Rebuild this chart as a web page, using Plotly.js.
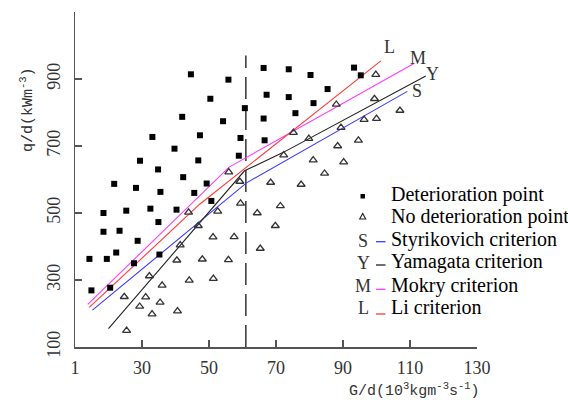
<!DOCTYPE html>
<html>
<head>
<meta charset="utf-8">
<script src="https://cdn.plot.ly/plotly-3.0.1.min.js"></script>
<style>html,body{margin:0;padding:0;background:#fff;}#chart{width:568px;height:403px;}</style>
</head>
<body>
<div id="chart"></div>
<script>
// ---- Data ----
const detX = [44.6,42.0,33.1,47.3,39.7,29.4,46.8,34.8,42.3,21.7,28.2,35.5,45.6,18.5,25.3,32.5,40.3,34.9,18.5,23.3,28.7,22.3,14.3,19.5,27.6,35.2,20.5,14.9,50.7,66.3,73.8,80.3,55.8,50.4,67.2,73.8,81.2,60.7,75.8,54.2,66.3,59.4,66.6,58.9,49.3,93.3,95.3,85.4];
const detY = [914,787,727,732,692,656,657,630,607,587,575,563,560,500,507,513,510,473,444,447,417,382,363,363,350,376,277,269,536,933,929,912,898,841,853,846,828,813,798,774,782,724,717,671,588,934,911,870];
const noDetX = [43.9,52.6,59.4,46.8,41.4,51.2,57.5,40.4,48.0,55.8,32.2,44.1,51.3,36.0,24.7,31.1,35.4,29.3,40.6,33.0,25.4,64.4,71.3,69.8,65.3,99.8,88.0,99.4,107.0,96.3,100.0,89.4,88.4,94.6,90.2,84.5,75.2,79.8,72.3,81.1,55.9,59.2,68.4,77.5];
const noDetY = [502,505,529,462,404,428,429,359,362,360,312,299,304,284,250,249,233,221,207,198,149,500,521,462,394,913,824,841,806,779,782,755,700,717,652,618,740,722,673,658,622,594,591,585];

const styrX = [15.2,61.2,109.2];
const styrY = [210,590,863];
const yamaX = [20.0,60.6,72.2,114.7];
const yamaY = [155,626,681,909];
const mokrX = [13.8,56.0,111.2];
const mokrY = [227,637,946];
const liX = [14.25,47.3,101.3];
const liY = [218,527,954];

const limitX = [61,61];
const limitY = [100,970];

const xTickVals = [10,30,50,70,90,110,130];
const xTickText = ['1','30','50','70','90','110','130'];
const yTickVals = [100,300,500,700,900,1100];
const yTickText = ['100','300','500','700','900','110'];

const legendNames = ['Deterioration point','No deterioration point','Styrikovich criterion','Yamagata criterion','Mokry criterion','Li criterion'];
const curveLetters = ['S','Y','M','L'];

// ---- Geometry helpers (pixel -> paper) ----
const W = 568, H = 403, ML = 75, MR = 91, MT = 12, MB = 56;
const PW = W - ML - MR, PH = H - MT - MB;
const px = x => (x - ML) / PW;
const py = y => (H - MB - y) / PH;

const serif = 'Liberation Serif, Times New Roman, serif';
const mono = 'Liberation Mono, monospace';

const lineCol = {S:'#3a3aff', Y:'#222222', M:'#ff3cff', L:'#ff3a3a'};

const traces = [
  {x: limitX, y: limitY, mode:'lines', line:{color:'#333', width:1.5, dash:'22px,9px'}, hoverinfo:'skip'},
  {x: styrX, y: styrY, mode:'lines', line:{color:lineCol.S, width:1.1}},
  {x: yamaX, y: yamaY, mode:'lines', line:{color:lineCol.Y, width:1.1}},
  {x: mokrX, y: mokrY, mode:'lines', line:{color:lineCol.M, width:1.1}},
  {x: liX, y: liY, mode:'lines', line:{color:lineCol.L, width:1.1}},
  {x: detX, y: detY, mode:'markers', marker:{symbol:'square', size:6, color:'#000'}},
  {x: noDetX, y: noDetY, mode:'markers', marker:{symbol:'triangle-up-open', size:7, color:'#333', line:{width:1.3, color:'#333'}}}
];

// legend rows (pixel y centres)
const rowY = [194, 216.7, 240, 261.7, 285, 306.7];
const annotations = [];
const shapes = [];
legendNames.forEach((t, i) => {
  annotations.push({text: t, xref:'paper', yref:'paper', x: px(389), y: py(rowY[i]), xanchor:'left', yanchor:'middle', showarrow:false, font:{family:serif, size:20, color:'#000'}});
});
// legend symbols
shapes.push({type:'rect', xref:'paper', yref:'paper', x0: px(360.5), x1: px(365), y0: py(198.5), y1: py(194), fillcolor:'#000', line:{width:0}});
shapes.push({type:'path', xref:'paper', yref:'paper', path:`M${px(359.7)},${py(219)} L${px(365.7)},${py(219)} L${px(362.7)},${py(213.5)} Z`, fillcolor:'rgba(0,0,0,0)', line:{color:'#222', width:1.1}});
const letterCols = [lineCol.S, lineCol.Y, lineCol.M, lineCol.L];
const lineOff = [1.7, 3.3, 4.3, 7.3];
curveLetters.forEach((c, k) => {
  const r = rowY[k+2];
  annotations.push({text: c, xref:'paper', yref:'paper', x: px(363), y: py(r+1), xanchor:'center', yanchor:'middle', showarrow:false, font:{family:serif, size:18, color:'#333'}});
  shapes.push({type:'line', xref:'paper', yref:'paper', x0: px(376), x1: px(385.5), y0: py(r+lineOff[k]), y1: py(r+lineOff[k]), line:{color:letterCols[k], width:1.3}});
});
// curve end letters
const letterPos = [[417.3,91],[432.3,74],[418.3,58.3],[389.3,47.3]];
curveLetters.forEach((c, k) => {
  annotations.push({text: c, xref:'paper', yref:'paper', x: px(letterPos[k][0]), y: py(letterPos[k][1]), xanchor:'center', yanchor:'middle', showarrow:false, font:{family:serif, size:18, color:'#333'}});
});
// axis titles
annotations.push({text:'q/d(kWm<sup>-3</sup>)', xref:'paper', yref:'paper', x: px(27), y: py(110), textangle:-90, xanchor:'center', yanchor:'middle', showarrow:false, font:{family:mono, size:15, color:'#333'}});
annotations.push({text:'G/d(10<sup>3</sup>kgm<sup>-3</sup>s<sup>-1</sup>)', xref:'paper', yref:'paper', x: px(482), y: py(390), xanchor:'right', yanchor:'middle', showarrow:false, font:{family:mono, size:15, color:'#333'}});

const layout = {
  width: W, height: H,
  margin:{l:ML, r:MR, t:MT, b:MB, pad:0},
  paper_bgcolor:'#fff', plot_bgcolor:'#fff',
  showlegend:false,
  xaxis:{range:[10,130], tickvals:xTickVals, ticktext:xTickText, ticks:'inside', ticklen:7, tickwidth:1.2, tickcolor:'#555',
         showline:true, linecolor:'#555', linewidth:1.5, showgrid:false, zeroline:false,
         tickfont:{family:serif, size:18, color:'#333'}, ticklabelstandoff:4},
  yaxis:{range:[100,1100], tickvals:yTickVals, ticktext:yTickText, ticks:'inside', ticklen:7, tickwidth:1.2, tickcolor:'#555',
         showline:true, linecolor:'#555', linewidth:1.5, showgrid:false, zeroline:false, tickangle:-90,
         tickfont:{family:serif, size:18, color:'#333'}, ticklabelstandoff:6},
  annotations: annotations,
  shapes: shapes
};

Plotly.newPlot('chart', traces, layout, {staticPlot:true, displayModeBar:false});
</script>
</body>
</html>
